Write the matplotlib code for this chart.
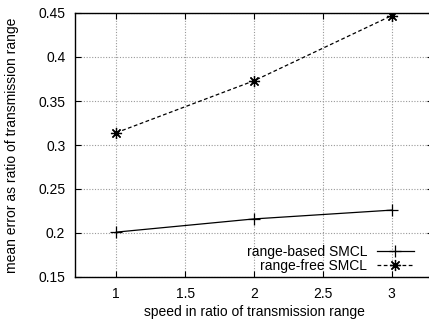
import matplotlib
matplotlib.use("Agg")
import matplotlib.pyplot as plt

speed = [1, 2, 3]
range_based = [0.201, 0.216, 0.226]
range_free = [0.314, 0.373, 0.447]
xticks = [1, 1.5, 2, 2.5, 3]
yticks = [0.15, 0.2, 0.25, 0.3, 0.35, 0.4, 0.45]

plt.rcParams['font.family'] = ['Liberation Sans', 'DejaVu Sans']
plt.rcParams['font.size'] = 10

W, H = 429, 321
fig = plt.figure(figsize=(W / 100, H / 100), dpi=100)
ax = fig.add_axes([75 / W, 1 - 277 / H, (433 - 75) / W, (277 - 13) / H])

ax.plot(speed, range_based, color='black', lw=0.9, linestyle='-',
        marker='+', markersize=8, markeredgewidth=0.9, label='range-based SMCL')
ax.plot(speed, range_free, color='black', lw=0.9, linestyle=(0, (3, 2)),
        marker=(8, 2, 0), markersize=8, markeredgewidth=0.9, label='range-free SMCL')

ax.set_xlim(0.7, 3.3)
ax.set_ylim(0.15, 0.45)
ax.set_xticks(xticks)
ax.set_xticklabels([f"{t:g}" for t in xticks])
ax.set_yticks(yticks)
ax.set_yticklabels([f"{t:g}" for t in yticks])
ax.grid(True, color='#999999', linestyle=(0, (1, 1.5)), lw=0.8)
ax.tick_params(direction='in', top=True, right=True, length=4, width=0.8)
ax.tick_params(axis='x', pad=7)
ax.tick_params(axis='y', pad=7)
for s in ax.spines.values():
    s.set_linewidth(1.0)

ax.set_xlabel('speed in ratio of transmission range', labelpad=3)
ax.set_ylabel('mean error as ratio of transmission range', labelpad=14)

leg = ax.legend(loc='lower right', bbox_to_anchor=(0.9625, -0.004), frameon=False,
                markerfirst=False, handlelength=2.7, handletextpad=0.65,
                labelspacing=0.0, borderaxespad=0.0)
for t in leg.get_texts():
    t.set_ha('right')
leg._legend_box.align = 'right'

fig.savefig('out.png', dpi=100)
